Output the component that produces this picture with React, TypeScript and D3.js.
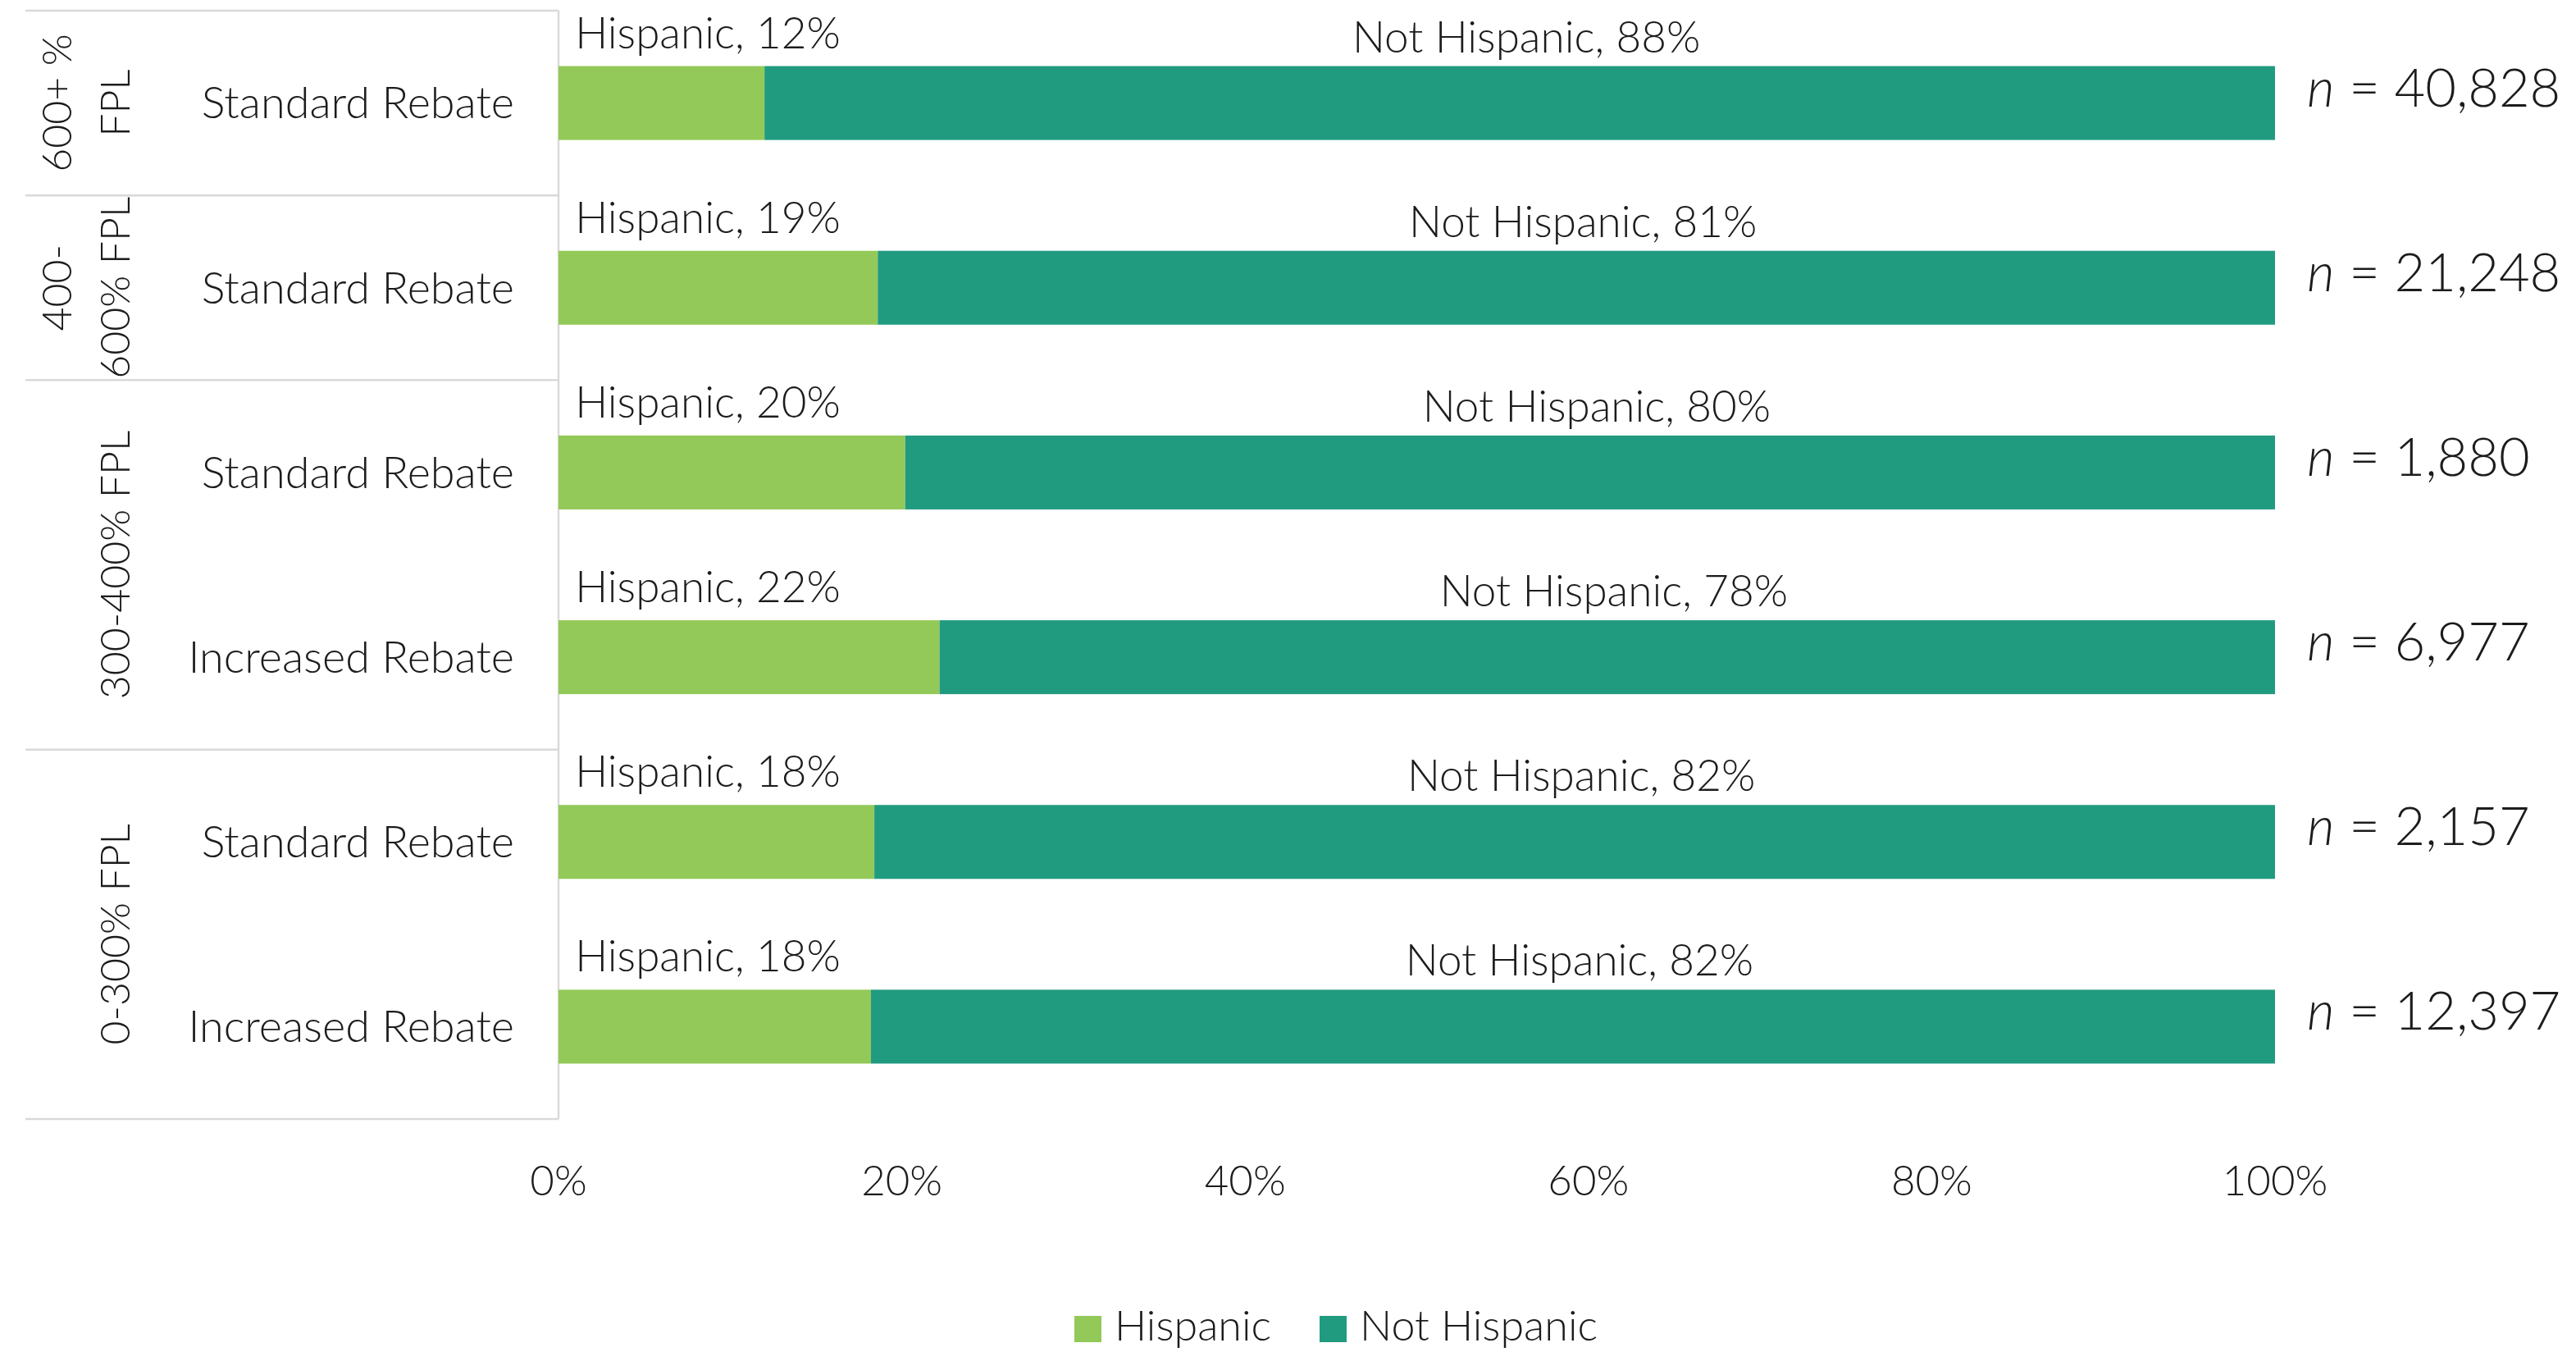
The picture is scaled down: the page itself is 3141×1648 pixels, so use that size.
import React from "react";
import * as d3 from "d3";

// ---------- data ----------
const rowIds = ["g600-std", "g400-std", "g300-std", "g300-inc", "g0-std", "g0-inc"];
const categories = [
  "Standard Rebate",
  "Standard Rebate",
  "Standard Rebate",
  "Increased Rebate",
  "Standard Rebate",
  "Increased Rebate",
];
const hispanic = [12.0, 18.6, 20.2, 22.2, 18.4, 18.2];
const notHispanic = [88.0, 81.4, 79.8, 77.8, 81.6, 81.8];
const sampleSizes = [40828, 21248, 1880, 6977, 2157, 12397];
const groupLabels = [["600+ %", "FPL"], ["400-", "600% FPL"], ["300-400% FPL"], ["0-300% FPL"]];
const groupSizes = [1, 1, 2, 2];
const xTicks = [0, 20, 40, 60, 80, 100];
const seriesNames = ["Hispanic", "Not Hispanic"];
const seriesColors = ["#93C958", "#219B7F"];

// ---------- layout ----------
const W = 3141;
const H = 1648;
const plotLeft = 681;
const plotRight = 2774;
const plotTop = 13;
const plotBottom = 1364;
const labelAreaLeft = 31;
const FONT = "Lato, 'Open Sans', sans-serif";
const TEXT = "#1c1c1c";
const GRID = "#D9D9D9";

export default function App() {
  const table = rowIds.map((id, i) => ({
    id,
    [seriesNames[0]]: hispanic[i],
    [seriesNames[1]]: notHispanic[i],
  }));
  const stacked = d3.stack<any>().keys(seriesNames)(table as any);

  const x = d3.scaleLinear().domain([0, 100]).range([plotLeft, plotRight]);
  const y = d3
    .scaleBand<string>()
    .domain(rowIds)
    .range([plotTop, plotBottom])
    .paddingInner(0.6)
    .paddingOuter(0.3);
  const step = y.step();
  const bw = y.bandwidth();
  const pct = d3.format(".0f");
  const comma = d3.format(",");

  // group boundaries
  let acc = 0;
  const groups = groupSizes.map((n, gi) => {
    const startIdx = acc;
    acc += n;
    const y0 = plotTop + startIdx * step;
    const y1 = plotTop + acc * step;
    return { lines: groupLabels[gi], y0, y1, mid: (y0 + y1) / 2 };
  });

  const catFont = 54;
  const groupFont = 50;
  const dataFont = 53;
  const tickFont = 51;
  const legendFont = 52;
  const nFont = 65;
  const lineGap = 71;
  const groupX = 140;

  return (
    <svg
      width={W}
      height={H}
      viewBox={`0 0 ${W} ${H}`}
      style={{ position: "absolute", left: 0, top: 0, display: "block", background: "#fff" }}
      fontFamily={FONT}
      fontWeight={300}
    >
      <rect x={0} y={0} width={W} height={H} fill="#fff" />

      {/* group separator lines in label area */}
      <line x1={labelAreaLeft} x2={plotLeft} y1={plotTop} y2={plotTop} stroke={GRID} strokeWidth={2.5} />
      {groups.map((g, i) => (
        <line key={"gl" + i} x1={labelAreaLeft} x2={plotLeft} y1={g.y1} y2={g.y1} stroke={GRID} strokeWidth={2.5} />
      ))}
      {/* vertical axis line */}
      <line x1={plotLeft} x2={plotLeft} y1={plotTop} y2={plotBottom} stroke={GRID} strokeWidth={2.5} />

      {/* group labels (rotated) */}
      {groups.map((g, gi) => (
        <g key={"gt" + gi}>
          {g.lines.map((ln, li) => {
            const cx = groupX - (g.lines.length - 1 - li) * lineGap;
            return (
              <text
                key={li}
                transform={`translate(${cx},${g.mid}) rotate(-90)`}
                textAnchor="middle"
                dy="0.35em"
                fontSize={groupFont}
                fill={TEXT}
              >
                {ln}
              </text>
            );
          })}
        </g>
      ))}

      {/* category labels */}
      {rowIds.map((id, i) => (
        <text
          key={"cat" + id}
          x={627}
          y={(y(id) as number) + bw / 2}
          dy="0.35em"
          textAnchor="end"
          fontSize={catFont}
          fill={TEXT}
        >
          {categories[i]}
        </text>
      ))}

      {/* bars */}
      {stacked.map((series, si) => (
        <g key={"s" + si} fill={seriesColors[si]}>
          {series.map((d: any, i: number) => (
            <rect
              key={rowIds[i]}
              x={x(d[0])}
              y={y(rowIds[i])}
              width={x(d[1]) - x(d[0])}
              height={bw}
            />
          ))}
        </g>
      ))}

      {/* data labels */}
      {rowIds.map((id, i) => {
        const top = y(id) as number;
        return (
          <g key={"dl" + id} fontSize={dataFont} fill={TEXT}>
            <text x={x(0) + 182} y={top - 22} textAnchor="middle">
              {`${seriesNames[0]}, ${pct(hispanic[i])}%`}
            </text>
            <text x={x(hispanic[i] + notHispanic[i] / 2) + 8} y={top - 17} textAnchor="middle">
              {`${seriesNames[1]}, ${pct(notHispanic[i])}%`}
            </text>
          </g>
        );
      })}

      {/* n labels */}
      {rowIds.map((id, i) => (
        <text
          key={"n" + id}
          x={2813}
          y={(y(id) as number) + bw / 2 + 4}
          fontSize={nFont}
          fill={TEXT}
        >
          <tspan fontStyle="italic">n</tspan>
          <tspan>{` = ${comma(sampleSizes[i])}`}</tspan>
        </text>
      ))}

      {/* x axis tick labels */}
      {xTicks.map((t) => (
        <text key={"xt" + t} x={x(t)} y={1457} textAnchor="middle" fontSize={tickFont} fill={TEXT}>
          {`${t}%`}
        </text>
      ))}

      {/* legend */}
      {seriesNames.map((name, i) => {
        const lx = [1310, 1609][i];
        return (
          <g key={"lg" + i}>
            <rect x={lx} y={1604} width={33} height={32} fill={seriesColors[i]} />
            <text x={lx + 49} y={1634} fontSize={legendFont} fill={TEXT}>
              {name}
            </text>
          </g>
        );
      })}
    </svg>
  );
}
